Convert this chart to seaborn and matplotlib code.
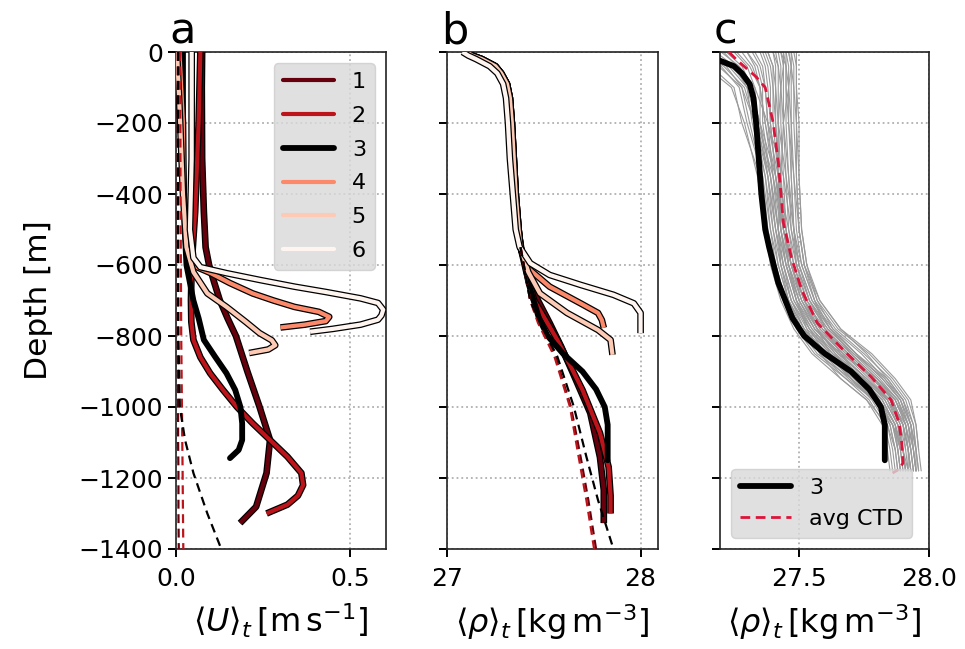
import numpy as np
import pandas as pd
import matplotlib
matplotlib.use("Agg")
import matplotlib.pyplot as plt
import matplotlib.patheffects as pe
from matplotlib.lines import Line2D
import seaborn as sns

# ---------------- data ----------------
run_labels = ["1", "2", "3", "4", "5", "6"]

# panel a : time-mean velocity profiles
u1_depth = [0, -100, -300, -450, -550, -600, -650, -700, -750, -800, -900, -1000, -1093, -1186, -1281, -1327]
u1 = [0.075, 0.074, 0.075, 0.08, 0.085, 0.095, 0.11, 0.126, 0.148, 0.172, 0.205, 0.24, 0.27, 0.26, 0.23, 0.184]
u2_depth = [0, -200, -450, -600, -700, -760, -811, -860, -905, -952, -1000, -1046, -1093, -1140, -1186, -1220, -1250, -1275, -1300]
u2 = [0.07, 0.065, 0.055, 0.045, 0.043, 0.044, 0.05, 0.07, 0.098, 0.135, 0.175, 0.22, 0.27, 0.32, 0.36, 0.365, 0.35, 0.32, 0.26]
u3_depth = [0, -300, -500, -600, -650, -700, -750, -811, -858, -905, -952, -1000, -1046, -1093, -1121, -1144]
u3 = [0.02, 0.02, 0.025, 0.03, 0.04, 0.05, 0.065, 0.08, 0.112, 0.145, 0.17, 0.185, 0.19, 0.19, 0.18, 0.155]
u4_depth = [0, -200, -400, -550, -606, -623, -651, -680, -700, -718, -732, -746, -758, -768, -776]
u4 = [0.01, 0.02, 0.022, 0.035, 0.06, 0.10, 0.155, 0.22, 0.28, 0.34, 0.41, 0.44, 0.43, 0.37, 0.30]
u5_depth = [0, -200, -400, -550, -620, -680, -718, -760, -792, -812, -826, -838, -848]
u5 = [0.003, 0.012, 0.02, 0.03, 0.05, 0.09, 0.145, 0.20, 0.24, 0.275, 0.285, 0.265, 0.21]
u6_depth = [0, -300, -500, -580, -606, -623, -642, -661, -676, -694, -707, -726, -742, -754, -768, -780, -788]
u6 = [0.045, 0.045, 0.04, 0.05, 0.07, 0.145, 0.24, 0.34, 0.43, 0.53, 0.58, 0.595, 0.59, 0.58, 0.53, 0.45, 0.385]

ud_depth = [0, -400, -800, -1000, -1093, -1186, -1300, -1400]
ud_black = [0.006, 0.006, 0.007, 0.011, 0.026, 0.05, 0.09, 0.13]
ud_red1 = [0.005, 0.005, 0.005, 0.006, 0.006, 0.007, 0.007, 0.008]
ud_red2 = [0.012, 0.013, 0.015, 0.017, 0.018, 0.019, 0.02, 0.021]

# panel b : time-mean density profiles
top_depth = [0, -10, -20, -40, -60, -90, -130, -200, -300, -400, -500]
top_rho = [27.10, 27.13, 27.18, 27.25, 27.28, 27.31, 27.325, 27.335, 27.345, 27.355, 27.37]
top_rho6 = [27.08, 27.11, 27.15, 27.22, 27.26, 27.29, 27.305, 27.315, 27.325, 27.34, 27.355]

r1_depth = [-550, -623, -700, -763, -830, -904, -1017, -1141, -1234, -1327]
r1 = [27.38, 27.42, 27.47, 27.53, 27.59, 27.65, 27.74, 27.79, 27.81, 27.81]
r2_depth = [-550, -620, -699, -811, -952, -1073, -1169, -1250, -1300]
r2 = [27.38, 27.41, 27.45, 27.57, 27.70, 27.79, 27.835, 27.845, 27.845]
r3_depth = [-550, -650, -750, -800, -850, -900, -950, -1000, -1050, -1150]
r3 = [27.385, 27.42, 27.475, 27.52, 27.60, 27.70, 27.77, 27.815, 27.83, 27.83]
r4_depth = [-550, -605, -661, -708, -735, -755, -777]
r4 = [27.38, 27.41, 27.53, 27.69, 27.78, 27.80, 27.81]
r5_depth = [-550, -620, -680, -735, -783, -811, -853]
r5 = [27.38, 27.42, 27.48, 27.62, 27.78, 27.845, 27.855]
r6_depth = [-549, -595, -628, -656, -684, -708, -735, -792]
r6 = [27.375, 27.43, 27.53, 27.69, 27.86, 27.965, 28.0, 28.0]

rd_depth = [-550, -700, -763, -858, -999, -1140, -1262, -1400]
rd_black = [27.38, 27.43, 27.48, 27.57, 27.655, 27.72, 27.78, 27.86]
rd_red1 = [27.38, 27.43, 27.475, 27.56, 27.64, 27.69, 27.73, 27.77]
rd_red2 = [27.38, 27.43, 27.47, 27.555, 27.635, 27.68, 27.72, 27.76]

# panel c : CTD casts and their average
ctd_depth = [0, -40, -100, -200, -350, -500, -600, -700, -780, -850, -920, -980, -1050, -1120, -1180]
nan = np.nan
ctd_casts = [
    [27.05, 27.16, 27.25, 27.28, 27.35, 27.38, 27.40, 27.44, 27.49, 27.56, 27.68, 27.77, 27.83, 27.85, 27.86],
    [27.10, 27.20, 27.27, 27.30, 27.36, 27.38, 27.41, 27.45, 27.50, 27.57, 27.70, 27.78, 27.84, 27.86, 27.87],
    [27.15, 27.22, 27.28, 27.31, 27.36, 27.39, 27.41, 27.45, 27.51, 27.59, 27.69, 27.79, 27.85, 27.87, nan],
    [27.18, 27.25, 27.30, 27.32, 27.37, 27.39, 27.42, 27.46, 27.51, 27.60, 27.71, 27.80, 27.85, 27.87, 27.88],
    [27.22, 27.28, 27.32, 27.33, 27.37, 27.40, 27.42, 27.46, 27.52, 27.61, 27.72, 27.81, 27.86, 27.88, 27.89],
    [27.25, 27.30, 27.33, 27.34, 27.38, 27.40, 27.43, 27.47, 27.53, 27.62, 27.73, 27.82, 27.87, 27.88, 27.89],
    [27.28, 27.32, 27.35, 27.35, 27.38, 27.41, 27.43, 27.47, 27.54, 27.63, 27.74, 27.82, 27.87, 27.89, nan],
    [27.30, 27.34, 27.36, 27.36, 27.39, 27.41, 27.44, 27.48, 27.55, 27.64, 27.75, 27.83, 27.88, 27.89, 27.90],
    [27.33, 27.36, 27.37, 27.38, 27.40, 27.42, 27.45, 27.49, 27.56, 27.65, 27.76, 27.84, 27.88, 27.90, 27.91],
    [27.36, 27.38, 27.39, 27.39, 27.41, 27.43, 27.45, 27.50, 27.56, 27.66, 27.76, 27.84, 27.89, 27.90, 27.91],
    [27.38, 27.40, 27.40, 27.40, 27.42, 27.43, 27.46, 27.50, 27.57, 27.67, 27.77, 27.85, 27.89, 27.91, nan],
    [27.40, 27.41, 27.41, 27.41, 27.42, 27.44, 27.46, 27.51, 27.58, 27.68, 27.78, 27.86, 27.90, 27.91, 27.92],
    [27.41, 27.42, 27.42, 27.42, 27.43, 27.44, 27.47, 27.52, 27.59, 27.69, 27.79, 27.86, 27.90, 27.92, 27.92],
    [27.42, 27.43, 27.43, 27.43, 27.44, 27.45, 27.47, 27.52, 27.60, 27.70, 27.80, 27.87, 27.91, 27.92, 27.93],
    [27.43, 27.44, 27.44, 27.44, 27.45, 27.46, 27.48, 27.53, 27.61, 27.71, 27.81, 27.88, 27.91, 27.93, nan],
    [27.44, 27.45, 27.45, 27.45, 27.46, 27.47, 27.49, 27.54, 27.62, 27.72, 27.82, 27.89, 27.92, 27.93, 27.94],
    [27.45, 27.46, 27.46, 27.46, 27.47, 27.48, 27.50, 27.55, 27.63, 27.74, 27.83, 27.90, 27.93, 27.94, 27.95],
    [27.46, 27.47, 27.47, 27.47, 27.48, 27.49, 27.51, 27.56, 27.64, 27.75, 27.85, 27.91, 27.94, 27.95, 27.96],
    [27.47, 27.48, 27.48, 27.49, 27.49, 27.50, 27.52, 27.57, 27.65, 27.77, 27.86, 27.92, 27.95, 27.96, 27.97],
    [27.48, 27.49, 27.49, 27.50, 27.50, 27.51, 27.53, 27.58, 27.66, 27.78, 27.87, 27.93, 27.95, 27.96, nan],
    [27.12, 27.24, 27.31, 27.35, 27.41, 27.45, 27.48, 27.52, 27.57, 27.62, 27.70, 27.79, 27.86, 27.90, 27.92],
    [27.46, 27.47, 27.46, 27.44, 27.43, 27.42, 27.43, 27.46, 27.52, 27.60, 27.74, 27.84, 27.90, 27.92, 27.93],
    [27.20, 27.27, 27.33, 27.38, 27.44, 27.47, 27.50, 27.55, 27.62, 27.72, 27.84, 27.90, 27.93, 27.95, 27.95],
    [27.38, 27.40, 27.41, 27.42, 27.45, 27.48, 27.51, 27.56, 27.60, 27.66, 27.73, 27.82, 27.87, 27.89, 27.90],
    [27.00, 27.14, 27.24, 27.29, 27.34, 27.37, 27.39, 27.43, 27.48, 27.55, 27.66, 27.76, 27.82, 27.84, 27.85],
    [27.08, 27.19, 27.28, 27.33, 27.39, 27.42, 27.45, 27.49, 27.54, 27.60, 27.70, 27.80, 27.86, 27.89, nan],
    [27.14, 27.23, 27.30, 27.34, 27.40, 27.44, 27.47, 27.51, 27.57, 27.65, 27.76, 27.85, 27.90, 27.92, 27.93],
    [27.26, 27.31, 27.35, 27.37, 27.41, 27.44, 27.47, 27.52, 27.58, 27.67, 27.79, 27.87, 27.91, 27.93, 27.94],
    [27.32, 27.35, 27.37, 27.38, 27.42, 27.46, 27.49, 27.54, 27.61, 27.71, 27.83, 27.89, 27.93, 27.94, 27.95],
    [27.35, 27.37, 27.38, 27.39, 27.41, 27.44, 27.47, 27.51, 27.57, 27.64, 27.72, 27.81, 27.87, 27.90, 27.91],
    [27.44, 27.44, 27.43, 27.42, 27.42, 27.43, 27.45, 27.49, 27.55, 27.63, 27.75, 27.85, 27.91, 27.93, 27.94],
    [27.45, 27.45, 27.45, 27.46, 27.48, 27.50, 27.52, 27.56, 27.62, 27.70, 27.80, 27.88, 27.92, 27.94, 27.95],
    [27.47, 27.47, 27.48, 27.48, 27.49, 27.50, 27.52, 27.58, 27.66, 27.76, 27.84, 27.90, 27.94, 27.95, 27.96],
    [27.49, 27.49, 27.49, 27.49, 27.50, 27.51, 27.53, 27.57, 27.63, 27.72, 27.82, 27.89, 27.93, 27.95, nan],
    [27.37, 27.39, 27.40, 27.41, 27.43, 27.45, 27.46, 27.49, 27.53, 27.58, 27.68, 27.79, 27.86, 27.88, 27.89],
    [27.21, 27.26, 27.31, 27.35, 27.39, 27.42, 27.44, 27.48, 27.54, 27.62, 27.75, 27.83, 27.88, 27.90, 27.91],
    [27.30, 27.33, 27.35, 27.37, 27.40, 27.43, 27.46, 27.50, 27.56, 27.66, 27.80, 27.88, 27.92, 27.94, nan],
    [27.40, 27.42, 27.43, 27.44, 27.46, 27.48, 27.50, 27.54, 27.60, 27.69, 27.79, 27.86, 27.90, 27.92, 27.93],
    [27.11, 27.21, 27.29, 27.33, 27.38, 27.41, 27.44, 27.47, 27.52, 27.58, 27.66, 27.76, 27.84, 27.87, 27.88],
    [27.43, 27.45, 27.46, 27.47, 27.47, 27.48, 27.49, 27.53, 27.59, 27.68, 27.78, 27.87, 27.92, 27.94, 27.95],
]
avg_depth = [0, -22, -70, -100, -197, -310, -482, -577, -670, -763, -839, -915, -980, -1045, -1100, -1158, -1175, -1186]
avg_ctd = [27.23, 27.26, 27.335, 27.37, 27.40, 27.42, 27.44, 27.47, 27.51, 27.57, 27.67, 27.777, 27.854, 27.885, 27.895, 27.90, 27.885, 27.86]

yticks = list(range(-1400, 1, 200))

# ---------------- style ----------------
sns.set_style("ticks")
plt.rcParams["font.family"] = ["DejaVu Sans"]
plt.rcParams["mathtext.fontset"] = "dejavusans"
for key in ["text.color", "axes.labelcolor", "xtick.color", "ytick.color", "axes.edgecolor"]:
    plt.rcParams[key] = "black"

colors = list(plt.cm.Reds(np.linspace(1, 0, 6)))
colors[2] = (0, 0, 0, 1)

fig = plt.figure(figsize=(9.65, 6.49), dpi=100)
W, H = 965, 649
def axpos(l, r, t=52, b=549):
    return [l / W, 1 - b / H, (r - l) / W, (b - t) / H]

axa = fig.add_axes(axpos(176, 386))
axb = fig.add_axes(axpos(447, 658))
axc = fig.add_axes(axpos(720, 929))

def draw(ax, x, y, color, lw, outline=False, ls="-", zorder=2):
    sns.lineplot(x=x, y=y, sort=False, estimator=None, ax=ax, color=color,
                 linewidth=lw, linestyle=ls, zorder=zorder)
    line = ax.lines[-1]
    if outline:
        line.set_path_effects([pe.Stroke(linewidth=lw + 1.8, foreground="k"), pe.Normal()])
        line.set_solid_capstyle("butt")
    return line

# panel a
u_sets = [(u1, u1_depth), (u2, u2_depth), (u3, u3_depth), (u4, u4_depth), (u5, u5_depth), (u6, u6_depth)]
for i, (x, y) in enumerate(u_sets):
    if i == 2:
        draw(axa, x, y, "k", 4.2, zorder=3)
    else:
        draw(axa, x, y, colors[i], 3.0, outline=True, zorder=3)
draw(axa, ud_red1, ud_depth, colors[0], 1.6, ls=(0, (4, 2.5)), zorder=4)
draw(axa, ud_red2, ud_depth, colors[1], 1.6, ls=(0, (4, 2.5)), zorder=4)
draw(axa, ud_black, ud_depth, "k", 1.6, ls=(0, (4, 2.5)), zorder=4)

# panel b
r_sets = [(r1, r1_depth), (r2, r2_depth), (r3, r3_depth), (r4, r4_depth), (r5, r5_depth), (r6, r6_depth)]
for i, (x, y) in enumerate(r_sets):
    tr = top_rho6 if i == 5 else top_rho
    xx = tr + x
    yy = top_depth + y
    if i == 2:
        draw(axb, xx, yy, "k", 4.2, zorder=3)
    else:
        draw(axb, xx, yy, colors[i], 3.0, outline=True, zorder=3)
draw(axb, rd_red1, rd_depth, colors[0], 1.6, ls=(0, (4, 2.5)), zorder=4)
draw(axb, rd_red2, rd_depth, colors[1], 1.6, ls=(0, (4, 2.5)), zorder=4)
draw(axb, rd_black, rd_depth, "k", 1.6, ls=(0, (4, 2.5)), zorder=4)

# panel c
rows = []
for k, cast in enumerate(ctd_casts):
    for d, v in zip(ctd_depth, cast):
        if not np.isnan(v):
            rows.append({"cast": k, "depth": d, "rho": v})
df = pd.DataFrame(rows)
sns.lineplot(data=df, x="rho", y="depth", units="cast", estimator=None, sort=False,
             color="#9a9a9a", linewidth=0.8, ax=axc, zorder=2, legend=False)
draw(axc, top_rho + r3, top_depth + r3_depth, "k", 4.2, zorder=4)
draw(axc, avg_ctd, avg_depth, "#dc143c", 2.0, ls=(0, (3.5, 2)), zorder=5)

# axes formatting
for ax, xl, xt, lab in [
    (axa, (0, 0.603), [0.0, 0.5], r"$\langle U\rangle_t\,[\mathrm{m\,s^{-1}}]$"),
    (axb, (27, 28.09), [27, 28], r"$\langle \rho\rangle_t\,[\mathrm{kg\,m^{-3}}]$"),
    (axc, (27.196, 28.0), [27.5, 28.0], r"$\langle \rho\rangle_t\,[\mathrm{kg\,m^{-3}}]$"),
]:
    ax.set_xlim(*xl)
    ax.set_ylim(-1400, 0)
    ax.set_xticks(xt)
    ax.set_yticks(yticks)
    ax.grid(True, linestyle=":", color="#b0b0b0", linewidth=1.3)
    ax.set_axisbelow(True)
    ax.tick_params(direction="out", length=6, width=1.4, labelsize=18, colors="k")
    ax.tick_params(axis="x", pad=7)
    for s in ax.spines.values():
        s.set_visible(True)
        s.set_linewidth(1.2)
        s.set_color("#222222")
    ax.set_xlabel(lab, fontsize=23, labelpad=8)
    ax.set_ylabel("")

axa.set_ylabel("Depth [m]", fontsize=22.5, labelpad=18)
axb.tick_params(labelleft=False)
axc.tick_params(labelleft=False)
axa.set_xticklabels(["0.0", "0.5"])

for ax, letter in [(axa, "a"), (axb, "b"), (axc, "c")]:
    ax.text(-0.03, 1.0, letter, transform=ax.transAxes, fontsize=31,
            ha="left", va="bottom")

handles = []
for i in range(6):
    handles.append(Line2D([], [], color=colors[i], linewidth=4.2 if i == 2 else 3.0))
leg = axa.legend(handles, run_labels, loc="upper right", fontsize=16,
                 handlelength=2.3, labelspacing=0.62, facecolor="#d9d9d9",
                 edgecolor="#cccccc", framealpha=0.8, borderaxespad=0.5)

h3 = [Line2D([], [], color="k", linewidth=4.2),
      Line2D([], [], color="#dc143c", linewidth=2.0, linestyle=(0, (3.5, 2)))]
axc.legend(h3, ["3", "avg CTD"], loc="lower left", fontsize=16, handlelength=2.3,
           facecolor="#d9d9d9", edgecolor="#cccccc", framealpha=0.8, borderaxespad=0.5)

fig.savefig("out.png", dpi=100)
